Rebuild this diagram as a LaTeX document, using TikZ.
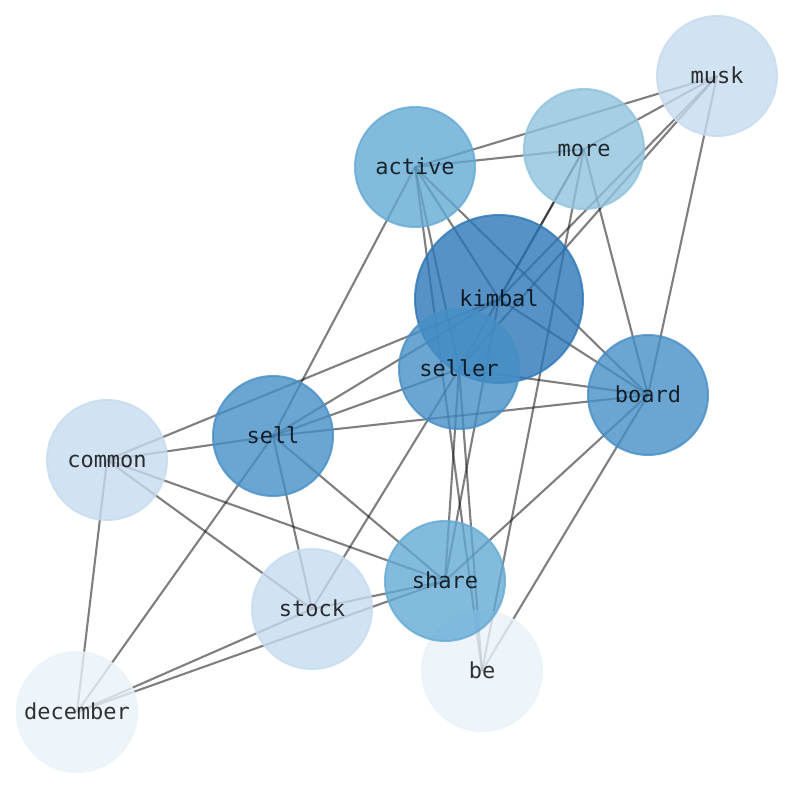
\documentclass[tikz,border=0pt]{standalone}
\usepackage{fontspec}
\setmonofont{DejaVu Sans Mono}
\usetikzlibrary{backgrounds}
\definecolor{cA}{RGB}{44,119,183}
\definecolor{cB}{RGB}{70,143,198}
\definecolor{cC}{RGB}{100,170,212}
\definecolor{cD}{RGB}{144,194,221}
\definecolor{cE}{RGB}{198,219,239}
\definecolor{cF}{RGB}{233,242,250}
\begin{document}
\begin{tikzpicture}[x=1pt,y=1pt,
  vtx/.style={circle, minimum size=120pt, inner sep=0pt, line width=2pt,
    fill=#1, draw=#1, fill opacity=0.8, draw opacity=0.8,
    text=black, text opacity=0.8,
    font=\ttfamily\fontsize{22}{26}\selectfont, text height=20pt, text depth=4.8pt},
  lnk/.style={draw=black, draw opacity=0.5, line width=2.1pt}]
\useasboundingbox (0,0) rectangle (794,790);
\node[vtx=cE] (musk) at (717,714) {musk};
\node[vtx=cD] (more) at (584,641) {more};
\node[vtx=cC] (active) at (415,623) {active};
\node[vtx=cA, minimum size=168pt] (kimbal) at (499,491) {kimbal};
\node[vtx=cB] (seller) at (459,421) {seller};
\node[vtx=cB] (board) at (648,395) {board};
\node[vtx=cB] (sell) at (273,354) {sell};
\node[vtx=cE] (common) at (107,330) {common};
\node[vtx=cF] (be) at (482,119) {be};
\node[vtx=cC] (share) at (445,209) {share};
\node[vtx=cE] (stock) at (312,181) {stock};
\node[vtx=cF] (december) at (77,78) {december};
\begin{scope}[on background layer]
\foreach \a/\b in {musk/active, musk/more, musk/kimbal, musk/seller, musk/board,
  more/active, more/kimbal, more/seller, more/be, more/board,
  active/sell, active/kimbal, active/board, active/be, active/seller,
  kimbal/sell, kimbal/common, kimbal/board, kimbal/share,
  seller/sell, seller/board, seller/share, seller/be, seller/stock,
  board/sell, board/share, board/be,
  sell/common, sell/december, sell/stock, sell/share,
  common/share, common/stock, common/december,
  share/stock, share/december, stock/december}
  \draw[lnk] (\a.center) -- (\b.center);
\end{scope}
\end{tikzpicture}
\end{document}
